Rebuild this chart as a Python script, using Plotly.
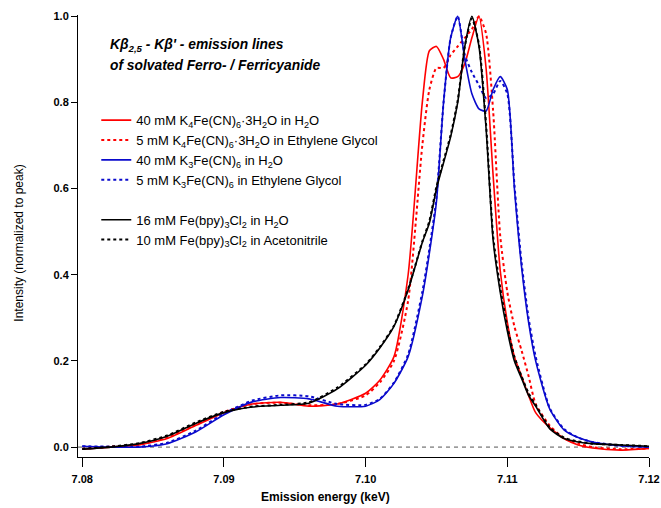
import plotly.graph_objects as go

energy = [7.080, 7.082, 7.084, 7.086, 7.088, 7.090, 7.092, 7.094, 7.096, 7.098,
          7.100, 7.101, 7.102, 7.103, 7.104, 7.1045, 7.105, 7.1055, 7.106, 7.1065,
          7.107, 7.1075, 7.108, 7.1085, 7.109, 7.1095, 7.110, 7.1105, 7.111, 7.1115,
          7.112, 7.113, 7.114, 7.115, 7.116, 7.118, 7.120]

ferro_h2o = [-0.005, 0.0, 0.005, 0.02, 0.05, 0.08, 0.10, 0.104, 0.095, 0.10,
             0.125, 0.155, 0.21, 0.40, 0.80, 0.92, 0.93, 0.90, 0.857, 0.86,
             0.89, 0.95, 1.0, 0.88, 0.63, 0.41, 0.29, 0.21, 0.165, 0.12,
             0.08, 0.045, 0.02, 0.005, -0.002, -0.007, -0.003]

ferro_eg = [-0.004, 0.001, 0.006, 0.022, 0.052, 0.082, 0.10, 0.103, 0.097, 0.10,
            0.12, 0.15, 0.20, 0.34, 0.70, 0.83, 0.88, 0.88, 0.91, 0.93,
            0.95, 0.97, 1.0, 0.96, 0.78, 0.49, 0.36, 0.28, 0.225, 0.165,
            0.10, 0.05, 0.02, 0.008, 0.0, -0.005, -0.003]

ferri_h2o = [0.002, 0.0, 0.0, 0.008, 0.035, 0.075, 0.105, 0.115, 0.112, 0.095,
             0.095, 0.11, 0.148, 0.21, 0.35, 0.45, 0.57, 0.80, 0.95, 1.0,
             0.90, 0.82, 0.785, 0.78, 0.83, 0.86, 0.83, 0.60, 0.42, 0.29,
             0.20, 0.088, 0.04, 0.022, 0.012, 0.003, 0.0]

ferri_eg = [0.002, 0.001, 0.001, 0.01, 0.038, 0.078, 0.108, 0.12, 0.118, 0.10,
            0.098, 0.112, 0.15, 0.215, 0.36, 0.46, 0.58, 0.80, 0.95, 1.0,
            0.91, 0.87, 0.84, 0.81, 0.82, 0.85, 0.82, 0.61, 0.43, 0.30,
            0.21, 0.09, 0.042, 0.022, 0.012, 0.003, 0.0]

bpy_h2o = [-0.005, 0.0, 0.008, 0.025, 0.055, 0.08, 0.093, 0.097, 0.102, 0.135,
           0.19, 0.23, 0.28, 0.365, 0.475, 0.52, 0.60, 0.66, 0.72, 0.80,
           0.93, 1.0, 0.93, 0.74, 0.48, 0.36, 0.27, 0.20, 0.16, 0.12,
           0.095, 0.042, 0.02, 0.012, 0.008, 0.005, 0.002]

bpy_acn = [-0.004, 0.001, 0.009, 0.027, 0.057, 0.082, 0.094, 0.098, 0.104, 0.138,
           0.192, 0.232, 0.282, 0.367, 0.477, 0.525, 0.605, 0.665, 0.725, 0.805,
           0.93, 0.995, 0.935, 0.75, 0.49, 0.37, 0.28, 0.21, 0.165, 0.125,
           0.098, 0.045, 0.022, 0.013, 0.008, 0.005, 0.002]

series = [
    ("40 mM K<sub>4</sub>Fe(CN)<sub>6</sub>·3H<sub>2</sub>O in H<sub>2</sub>O", ferro_h2o, "#ff0000", "solid", "a"),
    ("5 mM K<sub>4</sub>Fe(CN)<sub>6</sub>·3H<sub>2</sub>O in Ethylene Glycol", ferro_eg, "#ff0000", "3px,3px", "a"),
    ("40 mM K<sub>3</sub>Fe(CN)<sub>6</sub> in H<sub>2</sub>O", ferri_h2o, "#0a0acc", "solid", "a"),
    ("5 mM K<sub>3</sub>Fe(CN)<sub>6</sub> in Ethylene Glycol", ferri_eg, "#0a0acc", "3px,3px", "a"),
    ("16 mM Fe(bpy)<sub>3</sub>Cl<sub>2</sub> in H<sub>2</sub>O", bpy_h2o, "#000000", "solid", "b"),
    ("10 mM Fe(bpy)<sub>3</sub>Cl<sub>2</sub> in Acetonitrile", bpy_acn, "#000000", "3px,3px", "b"),
]

title_lines = ["<b><i>Kβ<sub>2,5</sub> - Kβ' - emission lines</i></b>",
               "<b><i>of solvated Ferro- / Ferricyanide</i></b>"]
x_title = "<b>Emission energy (keV)</b>"
y_title = "Intensity (normalized to peak)"

fig = go.Figure()
for name, vals, color, dash, grp in series:
    fig.add_trace(go.Scatter(
        x=energy, y=vals, mode="lines", name=name, legendgroup=grp,
        line=dict(color=color, width=1.6 if dash == "solid" else 2, dash=dash,
                  shape="spline", smoothing=0.6),
    ))

font = "Liberation Sans, Arial, sans-serif"

fig.add_shape(type="line", xref="paper", yref="y", x0=0, x1=1, y0=0, y1=0,
              line=dict(color="#555555", width=1, dash="4px,4px"), layer="below")

for txt, yy in zip(title_lines, [0.932, 0.885]):
    fig.add_annotation(
        xref="paper", yref="paper", x=0.052, y=yy, xanchor="left", yanchor="middle",
        align="left", showarrow=False, text=txt,
        font=dict(family=font, size=13.8, color="#000000"),
    )

fig.add_annotation(xref="paper", yref="paper", x=0.4326, y=-0.0905,
                   xanchor="center", yanchor="middle", showarrow=False,
                   text=x_title, font=dict(family=font, size=12, color="#000000"))
fig.add_annotation(xref="paper", yref="paper", x=-0.104, y=0.484,
                   xanchor="center", yanchor="middle", showarrow=False, textangle=-90,
                   text=y_title, font=dict(family=font, size=12, color="#000000"))

fig.update_layout(
    width=661, height=508,
    margin=dict(l=78, r=12, t=15, b=51),
    paper_bgcolor="white", plot_bgcolor="white",
    font=dict(family=font, size=12, color="#000000"),
    showlegend=True,
    legend=dict(x=0.032, y=0.796, xanchor="left", yanchor="top",
                bgcolor="rgba(0,0,0,0)", font=dict(family=font, size=13),
                tracegroupgap=20, itemwidth=30),
    xaxis=dict(range=[7.0797, 7.12], showgrid=False, zeroline=False, automargin=False,
               showline=True, linecolor="#000000", linewidth=1,
               ticks="outside", ticklen=9, tickcolor="#000000",
               tickvals=[7.08, 7.09, 7.10, 7.11, 7.12], tickformat=".2f",
               tickfont=dict(family=font, size=11, weight="bold"),
               ticklabelstandoff=3),
    yaxis=dict(range=[-0.023, 1.003], showgrid=False, zeroline=False, automargin=False,
               showline=True, linecolor="#000000", linewidth=1,
               ticks="outside", ticklen=6, tickcolor="#000000",
               tickvals=[0, 0.2, 0.4, 0.6, 0.8, 1.0], tickformat=".1f",
               tickfont=dict(family=font, size=11, weight="bold")),
)

fig.write_html("out.html")
